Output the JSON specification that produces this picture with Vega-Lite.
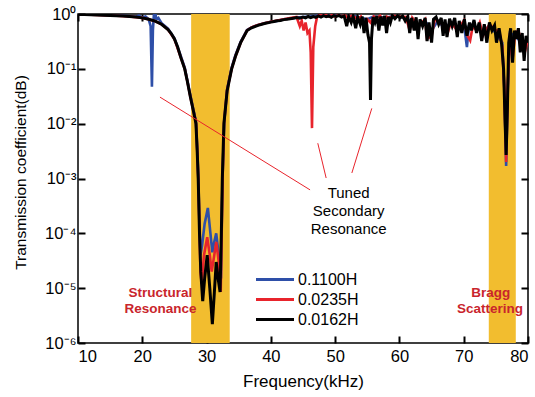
{
  "$schema": "https://vega.github.io/schema/vega-lite/v6.json",
  "width": 450,
  "height": 329,
  "autosize": "none",
  "padding": {"left": 78, "top": 14, "right": 7, "bottom": 54},
  "config": {
    "font": "Liberation Sans",
    "view": {"stroke": "black", "strokeWidth": 1.5},
    "axis": {
      "labelFont": "Liberation Sans",
      "labelFontSize": 16.5,
      "labelColor": "black",
      "titleFont": "Liberation Sans",
      "titleFontSize": 17,
      "titleFontWeight": "normal",
      "titleColor": "black",
      "domainColor": "black",
      "grid": false
    }
  },
  "datasets": {
    "bands": [{"start": 27.6, "end": 33.6}, {"start": 73.9, "end": 78.1}],
    "lines": [
      {"s":"0.1100H","f":10,"t":0.99},{"s":"0.1100H","f":12,"t":0.98},{"s":"0.1100H","f":14,"t":0.96},{"s":"0.1100H","f":16,"t":0.94},{"s":"0.1100H","f":17,"t":0.93},{"s":"0.1100H","f":18,"t":0.91},{"s":"0.1100H","f":19,"t":0.9},{"s":"0.1100H","f":19.5,"t":0.93},{"s":"0.1100H","f":20,"t":0.86},{"s":"0.1100H","f":20.5,"t":0.9},{"s":"0.1100H","f":21,"t":0.8},{"s":"0.1100H","f":21.3,"t":0.6},{"s":"0.1100H","f":21.5,"t":0.047},{"s":"0.1100H","f":21.65,"t":0.5},{"s":"0.1100H","f":21.8,"t":0.95},{"s":"0.1100H","f":22,"t":1.05},{"s":"0.1100H","f":22.2,"t":0.8},{"s":"0.1100H","f":22.5,"t":0.85},{"s":"0.1100H","f":23,"t":0.68},{"s":"0.1100H","f":24,"t":0.54},{"s":"0.1100H","f":25,"t":0.36},{"s":"0.1100H","f":26,"t":0.17},{"s":"0.1100H","f":26.6,"t":0.105},{"s":"0.1100H","f":27,"t":0.062},{"s":"0.1100H","f":27.5,"t":0.032},{"s":"0.1100H","f":28,"t":0.017},{"s":"0.1100H","f":28.35,"t":0.011},{"s":"0.1100H","f":28.55,"t":0.0035},{"s":"0.1100H","f":28.7,"t":0.0012},{"s":"0.1100H","f":28.9,"t":0.00015},{"s":"0.1100H","f":29.05,"t":0.00004},{"s":"0.1100H","f":29.3,"t":0.00006},{"s":"0.1100H","f":29.7,"t":0.00015},{"s":"0.1100H","f":30.2,"t":0.00029},{"s":"0.1100H","f":30.6,"t":0.0001},{"s":"0.1100H","f":30.9,"t":0.000045},{"s":"0.1100H","f":31.2,"t":0.00007},{"s":"0.1100H","f":31.5,"t":0.0001},{"s":"0.1100H","f":31.9,"t":0.00004},{"s":"0.1100H","f":32.25,"t":0.000015},{"s":"0.1100H","f":32.4,"t":0.0003},{"s":"0.1100H","f":32.5,"t":0.0012},{"s":"0.1100H","f":32.75,"t":0.011},{"s":"0.1100H","f":33.2,"t":0.042},{"s":"0.1100H","f":33.9,"t":0.105},{"s":"0.1100H","f":34.5,"t":0.18},{"s":"0.1100H","f":35.3,"t":0.31},{"s":"0.1100H","f":36.3,"t":0.51},{"s":"0.1100H","f":37,"t":0.57},{"s":"0.1100H","f":38,"t":0.63},{"s":"0.1100H","f":39,"t":0.68},{"s":"0.1100H","f":40,"t":0.72},{"s":"0.1100H","f":41,"t":0.75},{"s":"0.1100H","f":42,"t":0.8},{"s":"0.1100H","f":43,"t":0.83},{"s":"0.1100H","f":44,"t":0.86},{"s":"0.1100H","f":45,"t":0.88},{"s":"0.1100H","f":46,"t":0.9},{"s":"0.1100H","f":47,"t":0.93},{"s":"0.1100H","f":48,"t":0.97},{"s":"0.1100H","f":49,"t":0.93},{"s":"0.1100H","f":50,"t":0.95},{"s":"0.1100H","f":51,"t":0.92},{"s":"0.1100H","f":52,"t":0.9},{"s":"0.1100H","f":53,"t":0.92},{"s":"0.1100H","f":54,"t":0.85},{"s":"0.1100H","f":55,"t":0.8},{"s":"0.1100H","f":56,"t":0.9},{"s":"0.1100H","f":57,"t":0.88},{"s":"0.1100H","f":58,"t":0.85},{"s":"0.1100H","f":59,"t":0.92},{"s":"0.1100H","f":60,"t":0.88},{"s":"0.1100H","f":61,"t":0.85},{"s":"0.1100H","f":62,"t":0.7},{"s":"0.1100H","f":63,"t":0.6},{"s":"0.1100H","f":64,"t":0.75},{"s":"0.1100H","f":65,"t":0.5},{"s":"0.1100H","f":66,"t":0.75},{"s":"0.1100H","f":67,"t":0.55},{"s":"0.1100H","f":68,"t":0.7},{"s":"0.1100H","f":69,"t":0.55},{"s":"0.1100H","f":70,"t":0.7},{"s":"0.1100H","f":70.5,"t":0.25},{"s":"0.1100H","f":70.8,"t":0.6},{"s":"0.1100H","f":71.5,"t":0.65},{"s":"0.1100H","f":72,"t":0.55},{"s":"0.1100H","f":73,"t":0.5},{"s":"0.1100H","f":74,"t":0.6},{"s":"0.1100H","f":75,"t":0.45},{"s":"0.1100H","f":76,"t":0.3},{"s":"0.1100H","f":76.3,"t":0.05},{"s":"0.1100H","f":76.6,"t":0.0017},{"s":"0.1100H","f":76.85,"t":0.04},{"s":"0.1100H","f":77.2,"t":0.45},{"s":"0.1100H","f":78,"t":0.4},{"s":"0.1100H","f":79,"t":0.3},{"s":"0.1100H","f":80,"t":0.3},

      {"s":"0.0235H","f":10,"t":0.98},{"s":"0.0235H","f":12,"t":0.97},{"s":"0.0235H","f":14,"t":0.95},{"s":"0.0235H","f":16,"t":0.93},{"s":"0.0235H","f":18,"t":0.9},{"s":"0.0235H","f":20,"t":0.85},{"s":"0.0235H","f":21,"t":0.8},{"s":"0.0235H","f":22,"t":0.74},{"s":"0.0235H","f":23,"t":0.65},{"s":"0.0235H","f":24,"t":0.52},{"s":"0.0235H","f":25,"t":0.35},{"s":"0.0235H","f":26,"t":0.16},{"s":"0.0235H","f":26.6,"t":0.1},{"s":"0.0235H","f":27,"t":0.06},{"s":"0.0235H","f":27.5,"t":0.03},{"s":"0.0235H","f":28,"t":0.016},{"s":"0.0235H","f":28.35,"t":0.0105},{"s":"0.0235H","f":28.55,"t":0.0032},{"s":"0.0235H","f":28.7,"t":0.0011},{"s":"0.0235H","f":28.9,"t":0.00012},{"s":"0.0235H","f":29.05,"t":0.00002},{"s":"0.0235H","f":29.25,"t":0.000012},{"s":"0.0235H","f":29.6,"t":0.00004},{"s":"0.0235H","f":30.1,"t":0.000085},{"s":"0.0235H","f":30.5,"t":0.00004},{"s":"0.0235H","f":30.8,"t":0.00002},{"s":"0.0235H","f":31.2,"t":0.00004},{"s":"0.0235H","f":31.5,"t":0.00007},{"s":"0.0235H","f":31.9,"t":0.00003},{"s":"0.0235H","f":32.2,"t":0.0000085},{"s":"0.0235H","f":32.35,"t":0.0001},{"s":"0.0235H","f":32.5,"t":0.0011},{"s":"0.0235H","f":32.72,"t":0.0105},{"s":"0.0235H","f":33.2,"t":0.041},{"s":"0.0235H","f":33.9,"t":0.1},{"s":"0.0235H","f":34.5,"t":0.17},{"s":"0.0235H","f":35.3,"t":0.3},{"s":"0.0235H","f":36.3,"t":0.5},{"s":"0.0235H","f":37,"t":0.57},{"s":"0.0235H","f":38,"t":0.63},{"s":"0.0235H","f":39,"t":0.68},{"s":"0.0235H","f":40,"t":0.72},{"s":"0.0235H","f":41,"t":0.76},{"s":"0.0235H","f":42,"t":0.8},{"s":"0.0235H","f":43,"t":0.84},{"s":"0.0235H","f":44,"t":0.88},{"s":"0.0235H","f":44.5,"t":0.6},{"s":"0.0235H","f":44.8,"t":0.75},{"s":"0.0235H","f":45.1,"t":0.5},{"s":"0.0235H","f":45.4,"t":0.7},{"s":"0.0235H","f":45.7,"t":0.45},{"s":"0.0235H","f":46,"t":0.5},{"s":"0.0235H","f":46.2,"t":0.2},{"s":"0.0235H","f":46.4,"t":0.0083},{"s":"0.0235H","f":46.6,"t":0.25},{"s":"0.0235H","f":46.9,"t":0.6},{"s":"0.0235H","f":47.2,"t":0.9},{"s":"0.0235H","f":47.6,"t":0.97},{"s":"0.0235H","f":48,"t":0.92},{"s":"0.0235H","f":48.5,"t":0.97},{"s":"0.0235H","f":49,"t":0.9},{"s":"0.0235H","f":49.5,"t":0.95},{"s":"0.0235H","f":50,"t":0.9},{"s":"0.0235H","f":50.5,"t":0.96},{"s":"0.0235H","f":51,"t":0.9},{"s":"0.0235H","f":51.5,"t":0.95},{"s":"0.0235H","f":52,"t":0.85},{"s":"0.0235H","f":52.5,"t":0.92},{"s":"0.0235H","f":53,"t":0.88},{"s":"0.0235H","f":53.5,"t":0.8},{"s":"0.0235H","f":54,"t":0.9},{"s":"0.0235H","f":54.5,"t":0.55},{"s":"0.0235H","f":55,"t":0.8},{"s":"0.0235H","f":55.5,"t":0.7},{"s":"0.0235H","f":56,"t":0.9},{"s":"0.0235H","f":56.5,"t":0.85},{"s":"0.0235H","f":57,"t":0.93},{"s":"0.0235H","f":57.5,"t":0.75},{"s":"0.0235H","f":58,"t":0.9},{"s":"0.0235H","f":58.5,"t":0.85},{"s":"0.0235H","f":59,"t":0.93},{"s":"0.0235H","f":60,"t":0.9},{"s":"0.0235H","f":61,"t":0.88},{"s":"0.0235H","f":61.6,"t":0.5},{"s":"0.0235H","f":62,"t":0.85},{"s":"0.0235H","f":63,"t":0.6},{"s":"0.0235H","f":64,"t":0.8},{"s":"0.0235H","f":64.3,"t":0.35},{"s":"0.0235H","f":65,"t":0.4},{"s":"0.0235H","f":65.5,"t":0.8},{"s":"0.0235H","f":66,"t":0.75},{"s":"0.0235H","f":67,"t":0.6},{"s":"0.0235H","f":67.5,"t":0.45},{"s":"0.0235H","f":68,"t":0.7},{"s":"0.0235H","f":69,"t":0.5},{"s":"0.0235H","f":70,"t":0.75},{"s":"0.0235H","f":70.6,"t":0.4},{"s":"0.0235H","f":71,"t":0.33},{"s":"0.0235H","f":71.4,"t":0.6},{"s":"0.0235H","f":72,"t":0.5},{"s":"0.0235H","f":72.5,"t":0.7},{"s":"0.0235H","f":73,"t":0.4},{"s":"0.0235H","f":74,"t":0.65},{"s":"0.0235H","f":75,"t":0.5},{"s":"0.0235H","f":75.5,"t":0.5},{"s":"0.0235H","f":76,"t":0.25},{"s":"0.0235H","f":76.3,"t":0.05},{"s":"0.0235H","f":76.6,"t":0.002},{"s":"0.0235H","f":76.85,"t":0.05},{"s":"0.0235H","f":77.2,"t":0.45},{"s":"0.0235H","f":77.6,"t":0.15},{"s":"0.0235H","f":78,"t":0.45},{"s":"0.0235H","f":78.5,"t":0.5},{"s":"0.0235H","f":79,"t":0.3},{"s":"0.0235H","f":79.5,"t":0.2},{"s":"0.0235H","f":80,"t":0.35},

      {"s":"0.0162H","f":10,"t":0.98},{"s":"0.0162H","f":11,"t":0.975},{"s":"0.0162H","f":12,"t":0.97},{"s":"0.0162H","f":13,"t":0.96},{"s":"0.0162H","f":14,"t":0.95},{"s":"0.0162H","f":15,"t":0.94},{"s":"0.0162H","f":16,"t":0.93},{"s":"0.0162H","f":17,"t":0.915},{"s":"0.0162H","f":18,"t":0.9},{"s":"0.0162H","f":19,"t":0.88},{"s":"0.0162H","f":20,"t":0.85},{"s":"0.0162H","f":21,"t":0.8},{"s":"0.0162H","f":22,"t":0.74},{"s":"0.0162H","f":23,"t":0.65},{"s":"0.0162H","f":24,"t":0.52},{"s":"0.0162H","f":24.5,"t":0.44},{"s":"0.0162H","f":25,"t":0.35},{"s":"0.0162H","f":25.5,"t":0.25},{"s":"0.0162H","f":26,"t":0.16},{"s":"0.0162H","f":26.6,"t":0.1},{"s":"0.0162H","f":27,"t":0.06},{"s":"0.0162H","f":27.5,"t":0.03},{"s":"0.0162H","f":28,"t":0.016},{"s":"0.0162H","f":28.35,"t":0.01},{"s":"0.0162H","f":28.55,"t":0.003},{"s":"0.0162H","f":28.7,"t":0.001},{"s":"0.0162H","f":28.9,"t":0.0001},{"s":"0.0162H","f":29.1,"t":0.00002},{"s":"0.0162H","f":29.4,"t":0.0000058},{"s":"0.0162H","f":29.7,"t":0.000015},{"s":"0.0162H","f":30.1,"t":0.00004},{"s":"0.0162H","f":30.5,"t":0.00001},{"s":"0.0162H","f":30.9,"t":0.0000022},{"s":"0.0162H","f":31.2,"t":0.000008},{"s":"0.0162H","f":31.5,"t":0.00003},{"s":"0.0162H","f":31.8,"t":0.000015},{"s":"0.0162H","f":32.1,"t":0.0000085},{"s":"0.0162H","f":32.3,"t":0.0001},{"s":"0.0162H","f":32.45,"t":0.001},{"s":"0.0162H","f":32.7,"t":0.01},{"s":"0.0162H","f":33.2,"t":0.04},{"s":"0.0162H","f":33.9,"t":0.1},{"s":"0.0162H","f":34.5,"t":0.17},{"s":"0.0162H","f":35.3,"t":0.3},{"s":"0.0162H","f":36.3,"t":0.5},{"s":"0.0162H","f":37,"t":0.56},{"s":"0.0162H","f":38,"t":0.62},{"s":"0.0162H","f":39,"t":0.67},{"s":"0.0162H","f":40,"t":0.71},{"s":"0.0162H","f":40.5,"t":0.73},{"s":"0.0162H","f":41,"t":0.75},{"s":"0.0162H","f":41.5,"t":0.76},{"s":"0.0162H","f":42,"t":0.79},{"s":"0.0162H","f":42.5,"t":0.8},{"s":"0.0162H","f":43,"t":0.82},{"s":"0.0162H","f":43.5,"t":0.84},{"s":"0.0162H","f":44,"t":0.86},{"s":"0.0162H","f":44.5,"t":0.84},{"s":"0.0162H","f":45,"t":0.88},{"s":"0.0162H","f":45.4,"t":0.85},{"s":"0.0162H","f":45.8,"t":0.9},{"s":"0.0162H","f":46.2,"t":0.86},{"s":"0.0162H","f":46.6,"t":0.9},{"s":"0.0162H","f":47,"t":0.87},{"s":"0.0162H","f":47.4,"t":0.92},{"s":"0.0162H","f":47.8,"t":0.88},{"s":"0.0162H","f":48.2,"t":0.93},{"s":"0.0162H","f":48.6,"t":0.89},{"s":"0.0162H","f":49,"t":0.92},{"s":"0.0162H","f":49.4,"t":0.87},{"s":"0.0162H","f":49.8,"t":0.93},{"s":"0.0162H","f":50.2,"t":0.9},{"s":"0.0162H","f":50.6,"t":0.94},{"s":"0.0162H","f":51,"t":0.88},{"s":"0.0162H","f":51.4,"t":0.92},{"s":"0.0162H","f":51.8,"t":0.6},{"s":"0.0162H","f":52.1,"t":0.9},{"s":"0.0162H","f":52.5,"t":0.7},{"s":"0.0162H","f":52.8,"t":0.91},{"s":"0.0162H","f":53.2,"t":0.55},{"s":"0.0162H","f":53.5,"t":0.88},{"s":"0.0162H","f":53.9,"t":0.65},{"s":"0.0162H","f":54.2,"t":0.9},{"s":"0.0162H","f":54.5,"t":0.45},{"s":"0.0162H","f":54.8,"t":0.85},{"s":"0.0162H","f":55.1,"t":0.42},{"s":"0.0162H","f":55.35,"t":0.3},{"s":"0.0162H","f":55.5,"t":0.027},{"s":"0.0162H","f":55.65,"t":0.35},{"s":"0.0162H","f":55.9,"t":0.88},{"s":"0.0162H","f":56.2,"t":0.7},{"s":"0.0162H","f":56.5,"t":0.92},{"s":"0.0162H","f":56.8,"t":0.5},{"s":"0.0162H","f":57.1,"t":0.9},{"s":"0.0162H","f":57.4,"t":0.62},{"s":"0.0162H","f":57.7,"t":0.93},{"s":"0.0162H","f":58,"t":0.45},{"s":"0.0162H","f":58.3,"t":0.88},{"s":"0.0162H","f":58.6,"t":0.7},{"s":"0.0162H","f":58.9,"t":0.94},{"s":"0.0162H","f":59.3,"t":0.82},{"s":"0.0162H","f":59.7,"t":0.93},{"s":"0.0162H","f":60.1,"t":0.85},{"s":"0.0162H","f":60.5,"t":0.92},{"s":"0.0162H","f":60.9,"t":0.75},{"s":"0.0162H","f":61.3,"t":0.9},{"s":"0.0162H","f":61.6,"t":0.45},{"s":"0.0162H","f":61.9,"t":0.85},{"s":"0.0162H","f":62.3,"t":0.5},{"s":"0.0162H","f":62.6,"t":0.87},{"s":"0.0162H","f":62.9,"t":0.35},{"s":"0.0162H","f":63.2,"t":0.8},{"s":"0.0162H","f":63.6,"t":0.6},{"s":"0.0162H","f":64,"t":0.85},{"s":"0.0162H","f":64.3,"t":0.32},{"s":"0.0162H","f":64.6,"t":0.7},{"s":"0.0162H","f":65,"t":0.3},{"s":"0.0162H","f":65.3,"t":0.8},{"s":"0.0162H","f":65.7,"t":0.88},{"s":"0.0162H","f":66.1,"t":0.65},{"s":"0.0162H","f":66.5,"t":0.85},{"s":"0.0162H","f":66.8,"t":0.4},{"s":"0.0162H","f":67.1,"t":0.8},{"s":"0.0162H","f":67.4,"t":0.38},{"s":"0.0162H","f":67.8,"t":0.82},{"s":"0.0162H","f":68.2,"t":0.6},{"s":"0.0162H","f":68.6,"t":0.85},{"s":"0.0162H","f":69,"t":0.38},{"s":"0.0162H","f":69.3,"t":0.75},{"s":"0.0162H","f":69.7,"t":0.45},{"s":"0.0162H","f":70.1,"t":0.8},{"s":"0.0162H","f":70.5,"t":0.4},{"s":"0.0162H","f":70.9,"t":0.7},{"s":"0.0162H","f":71.2,"t":0.5},{"s":"0.0162H","f":71.6,"t":0.78},{"s":"0.0162H","f":72,"t":0.45},{"s":"0.0162H","f":72.4,"t":0.7},{"s":"0.0162H","f":72.8,"t":0.32},{"s":"0.0162H","f":73.2,"t":0.65},{"s":"0.0162H","f":73.6,"t":0.3},{"s":"0.0162H","f":74,"t":0.7},{"s":"0.0162H","f":74.4,"t":0.5},{"s":"0.0162H","f":74.8,"t":0.62},{"s":"0.0162H","f":75.1,"t":0.3},{"s":"0.0162H","f":75.5,"t":0.55},{"s":"0.0162H","f":75.9,"t":0.28},{"s":"0.0162H","f":76.2,"t":0.1},{"s":"0.0162H","f":76.45,"t":0.01},{"s":"0.0162H","f":76.6,"t":0.0027},{"s":"0.0162H","f":76.8,"t":0.02},{"s":"0.0162H","f":77,"t":0.3},{"s":"0.0162H","f":77.3,"t":0.55},{"s":"0.0162H","f":77.6,"t":0.13},{"s":"0.0162H","f":77.9,"t":0.5},{"s":"0.0162H","f":78.2,"t":0.35},{"s":"0.0162H","f":78.5,"t":0.55},{"s":"0.0162H","f":78.8,"t":0.2},{"s":"0.0162H","f":79.1,"t":0.45},{"s":"0.0162H","f":79.4,"t":0.14},{"s":"0.0162H","f":79.7,"t":0.4},{"s":"0.0162H","f":80,"t":0.3}
    ],
    "pointers": [
      {"fa": 22.75, "ta": 0.0305, "fb": 46.1, "tb": 0.00062},
      {"fa": 47.3, "ta": 0.0044, "fb": 48.6, "tb": 0.00102},
      {"fa": 55.7, "ta": 0.019, "fb": 52.6, "tb": 0.00126}
    ],
    "tuned": [
      {"f": 52.1, "t": 0.000542, "label": "Tuned"},
      {"f": 52.1, "t": 0.000255, "label": "Secondary"},
      {"f": 52.1, "t": 0.00012, "label": "Resonance"}
    ],
    "regions": [
      {"f": 22.83, "t": 0.0000082, "label": "Structural"},
      {"f": 22.83, "t": 0.00000417, "label": "Resonance"},
      {"f": 74.2, "t": 0.0000082, "label": "Bragg"},
      {"f": 74.1, "t": 0.00000417, "label": "Scattering"}
    ]
  },
  "layer": [
    {
      "data": {"name": "bands"},
      "mark": {"type": "rect", "color": "#F2BD2F"},
      "encoding": {
        "x": {"field": "start", "type": "quantitative", "scale": {"domain": [10, 80], "nice": false, "zero": false},
              "axis": {"orient": "top", "labels": false, "title": null, "domain": false, "tickSize": -7, "tickColor": "#000000", "tickWidth": 2, "values": [10,20,30,40,50,60,70,80]}},
        "x2": {"field": "end"}
      }
    },
    {
      "data": {"name": "lines"},
      "transform": [{"filter": "datum.s === '0.1100H'"}],
      "mark": {"type": "line", "strokeWidth": 2.6, "clip": true},
      "encoding": {
        "x": {"field": "f", "type": "quantitative", "scale": {"domain": [10, 80], "nice": false, "zero": false},
              "axis": {"orient": "bottom", "title": "Frequency(kHz)", "domain": false, "tickSize": -7, "tickColor": "#000000", "tickWidth": 2, "labelPadding": 12, "titlePadding": 9, "values": [10,20,30,40,50,60,70,80]}},
        "y": {"field": "t", "type": "quantitative", "scale": {"type": "log", "domain": [0.000001, 1], "nice": false},
              "axis": {"orient": "left", "title": "Transmission coefficient(dB)", "titleFontSize": 15.5, "domain": false, "tickSize": -7, "tickColor": "#000000", "tickWidth": 2, "labelPadding": 9, "titlePadding": 16, "titleY": 158,
                       "values": [0.000001, 0.00001, 0.0001, 0.001, 0.01, 0.1, 1],
                       "labelExpr": "'10' + ['⁰','⁻¹','⁻²','⁻³','⁻⁴','⁻⁵','⁻⁶'][round(-log(datum.value)/LN10)]"}},
        "color": {"field": "s", "type": "nominal",
                  "scale": {"domain": ["0.1100H", "0.0235H", "0.0162H"], "range": ["#2E4FA8", "#E8242C", "#000000"]},
                  "legend": {"orient": "none", "legendX": 185.5, "legendY": 254, "title": null, "symbolType": "M-1.9,0H1.9", "symbolSize": 400, "symbolStrokeWidth": 3, "labelFontSize": 16, "labelFont": "Liberation Sans", "labelColor": "black", "rowPadding": 0, "padding": 0, "labelOffset": 11.5}}
      }
    },
    {
      "data": {"name": "lines"},
      "transform": [{"filter": "datum.s === '0.0235H'"}],
      "mark": {"type": "line", "strokeWidth": 2.6, "clip": true},
      "encoding": {
        "x": {"field": "f", "type": "quantitative", "scale": {"domain": [10, 80], "nice": false, "zero": false}, "axis": null},
        "y": {"field": "t", "type": "quantitative", "scale": {"type": "log", "domain": [0.000001, 1], "nice": false}, "axis": null},
        "color": {"field": "s", "type": "nominal",
                  "scale": {"domain": ["0.1100H", "0.0235H", "0.0162H"], "range": ["#2E4FA8", "#E8242C", "#000000"]},
                  "legend": {"orient": "none", "legendX": 185.5, "legendY": 254, "title": null, "symbolType": "M-1.9,0H1.9", "symbolSize": 400, "symbolStrokeWidth": 3, "labelFontSize": 16, "labelFont": "Liberation Sans", "labelColor": "black", "rowPadding": 0, "padding": 0, "labelOffset": 11.5}}
      }
    },
    {
      "data": {"name": "lines"},
      "transform": [{"filter": "datum.s === '0.0162H'"}],
      "mark": {"type": "line", "strokeWidth": 3, "clip": true},
      "encoding": {
        "x": {"field": "f", "type": "quantitative", "scale": {"domain": [10, 80], "nice": false, "zero": false}, "axis": null},
        "y": {"field": "t", "type": "quantitative", "scale": {"type": "log", "domain": [0.000001, 1], "nice": false}, "axis": null},
        "color": {"field": "s", "type": "nominal",
                  "scale": {"domain": ["0.1100H", "0.0235H", "0.0162H"], "range": ["#2E4FA8", "#E8242C", "#000000"]},
                  "legend": {"orient": "none", "legendX": 185.5, "legendY": 254, "title": null, "symbolType": "M-1.9,0H1.9", "symbolSize": 400, "symbolStrokeWidth": 3, "labelFontSize": 16, "labelFont": "Liberation Sans", "labelColor": "black", "rowPadding": 0, "padding": 0, "labelOffset": 11.5}}
      }
    },
    {
      "data": {"name": "pointers"},
      "mark": {"type": "rule", "color": "#E8242C", "strokeWidth": 1},
      "encoding": {
        "x": {"field": "fa", "type": "quantitative", "scale": {"domain": [10, 80], "nice": false, "zero": false}, "axis": null},
        "y": {"field": "ta", "type": "quantitative", "scale": {"type": "log", "domain": [0.000001, 1], "nice": false},
              "axis": {"orient": "right", "labels": false, "title": null, "domain": false, "tickSize": -7, "tickColor": "#000000", "tickWidth": 2, "values": [0.000001, 0.00001, 0.0001, 0.001, 0.01, 0.1, 1]}},
        "x2": {"field": "fb"},
        "y2": {"field": "tb"}
      }
    },
    {
      "data": {"name": "tuned"},
      "mark": {"type": "text", "fontSize": 15, "font": "Liberation Sans", "color": "black", "align": "center", "baseline": "middle"},
      "encoding": {
        "x": {"field": "f", "type": "quantitative", "scale": {"domain": [10, 80], "nice": false, "zero": false}, "axis": null},
        "y": {"field": "t", "type": "quantitative", "scale": {"type": "log", "domain": [0.000001, 1], "nice": false}, "axis": null},
        "text": {"field": "label"}
      }
    },
    {
      "data": {"name": "regions"},
      "mark": {"type": "text", "fontSize": 13.5, "font": "Liberation Sans", "fontWeight": "bold", "color": "#C9252C", "align": "center", "baseline": "middle"},
      "encoding": {
        "x": {"field": "f", "type": "quantitative", "scale": {"domain": [10, 80], "nice": false, "zero": false}, "axis": null},
        "y": {"field": "t", "type": "quantitative", "scale": {"type": "log", "domain": [0.000001, 1], "nice": false}, "axis": null},
        "text": {"field": "label"}
      }
    }
  ],
  "resolve": {"axis": {"x": "independent", "y": "independent"}}
}
